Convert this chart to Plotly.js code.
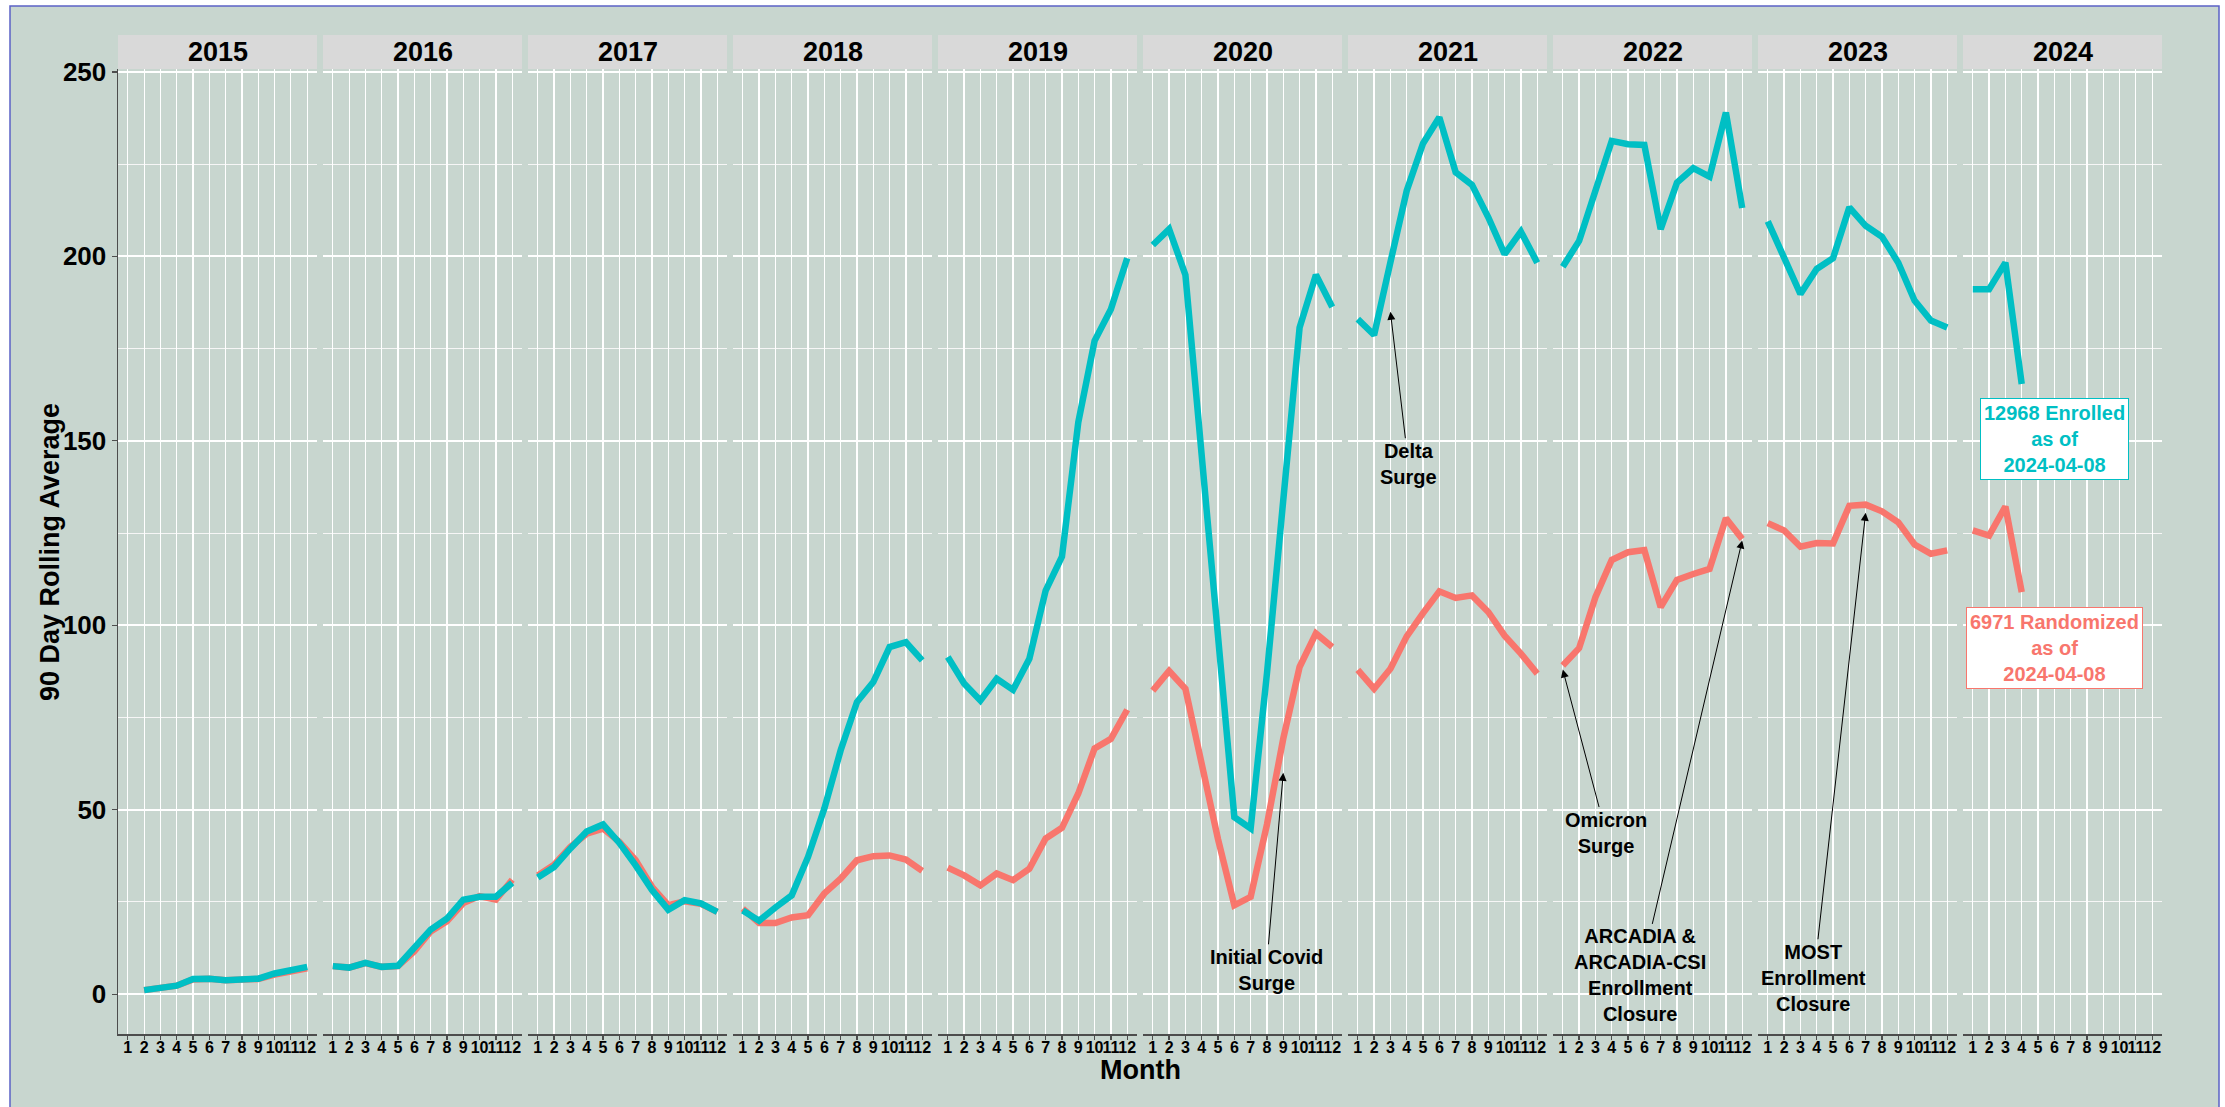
<!DOCTYPE html>
<html><head><meta charset="utf-8">
<script src="https://cdn.plot.ly/plotly-3.0.1.min.js"></script>
<style>html,body{margin:0;padding:0;background:#fff;}#chart{width:2225px;height:1107px;}</style>
</head><body><div id="chart"></div>
<script>
// ---------------- data ----------------
const years = ['2015','2016','2017','2018','2019','2020','2021','2022','2023','2024'];
const months = [1,2,3,4,5,6,7,8,9,10,11,12];
const monthLabels = ['1','2','3','4','5','6','7','8','9','10','11','12'];
const yTicks = [0,50,100,150,200,250];

const enrolled2015 = [null,1.1,1.5,2.3,4.1,4.2,3.8,4.0,4.2,5.6,6.3,7.4];
const enrolled2016 = [7.6,7.2,8.5,7.4,7.7,12.4,17.5,20.5,25.6,26.4,26.4,30.2];
const enrolled2017 = [31.6,34.5,39.5,44.1,46.0,41.0,34.9,28.2,22.9,25.5,24.6,22.3];
const enrolled2018 = [22.7,19.9,23.5,26.8,37.2,50.3,66.1,79.2,84.6,94.1,95.4,90.5];
const enrolled2019 = [91.4,84.2,79.6,85.5,82.5,90.9,109.4,118.6,155,177.1,185.7,199.5];
const enrolled2020 = [203.1,207.4,195.0,146.5,95,48,44.9,87,134,180.7,195.0,186.3];
const enrolled2021 = [183.0,178.7,198.4,217.8,230.6,237.7,222.8,219.4,210.6,200.6,206.7,198.3];
const enrolled2022 = [197.2,204.2,217.8,231.3,230.4,230.2,207.4,220.0,223.9,221.6,239.0,213.1];
const enrolled2023 = [209.5,199.6,189.8,196.6,199.5,213.3,208.3,205.3,198.3,188.0,182.6,180.7];
const enrolled2024 = [191.1,191.1,198.3,165.4,null,null,null,null,null,null,null,null];

const randomized2015 = [null,1.1,1.5,2.3,4.0,4.2,3.8,4.0,4.1,5.3,6.0,7.0];
const randomized2016 = [7.6,7.2,8.4,7.4,7.6,11.6,17.0,19.8,24.7,26.6,25.6,31.0];
const randomized2017 = [32.2,35.1,39.9,43.5,44.9,41.3,36.3,29.1,24.1,25.2,24.5,22.3];
const randomized2018 = [23.2,19.3,19.3,20.8,21.4,27.3,31.3,36.3,37.4,37.6,36.5,33.4];
const randomized2019 = [34.3,32.2,29.5,32.7,30.9,34.0,42.2,45.1,54.4,66.6,69.2,77.1];
const randomized2020 = [82.3,87.6,82.8,62,42,24.1,26.4,46,69.3,88.7,97.8,94.1];
const randomized2021 = [87.9,82.8,88.2,97.0,103.3,109.2,107.4,108.1,103.6,97.2,92.3,86.9];
const randomized2022 = [89.1,93.8,107.6,117.7,119.8,120.4,104.9,112.3,113.9,115.3,129.0,123.4];
const randomized2023 = [127.7,125.7,121.3,122.3,122.2,132.4,132.7,130.9,127.9,121.9,119.4,120.3];
const randomized2024 = [125.7,124.3,132.2,109.0,null,null,null,null,null,null,null,null];

const enrolledByYear = [enrolled2015,enrolled2016,enrolled2017,enrolled2018,enrolled2019,enrolled2020,enrolled2021,enrolled2022,enrolled2023,enrolled2024];
const randomizedByYear = [randomized2015,randomized2016,randomized2017,randomized2018,randomized2019,randomized2020,randomized2021,randomized2022,randomized2023,randomized2024];

// event notes: panel index, month, value at arrow tip
const noteTexts = ['Delta<br>Surge','Initial Covid<br>Surge','Omicron<br>Surge','ARCADIA &<br>ARCADIA-CSI<br>Enrollment<br>Closure','MOST<br>Enrollment<br>Closure'];
const notePanels = [6,5,7,7,8];
const noteMonths = [3,9,1,12,7];
const noteValues = [185,60,88,123,130.5];
const noteDx = [18,-17,43,-102,-52];
const noteDy = [152,197,163,435,465];

const totalTexts = ['12968 Enrolled<br>as of<br>2024-04-08','6971 Randomized<br>as of<br>2024-04-08'];
const totalMonth = 6;
const totalValues = [150.5,93.8];

// ---------------- style ----------------
const TEAL = '#00BFC4', RED = '#F8766D';
const FONT = 'Liberation Sans, Arial, Helvetica, sans-serif';
const W = 2225, H = 1107;
const L = 118, R = 2162, T = 69, B = 1034;
const PW = R - L, PH = B - T;
const panelW = 199, pitch = 205;
const px = p => (p - L) / PW;
const py = q => (B - q) / PH;

const traces = [];
const layout = {
  width: W, height: H,
  margin: {l: L, r: W - R, t: T, b: H - B, pad: 0},
  paper_bgcolor: '#ffffff',
  plot_bgcolor: '#EBEBEB',
  showlegend: false,
  hovermode: false,
  font: {family: FONT, color: '#000'},
  shapes: [], annotations: []
};

layout.shapes.push({type:'rect', xref:'paper', yref:'paper', layer:'below',
  x0: px(10), x1: px(2219), y0: py(1115), y1: py(6),
  fillcolor:'#C8D6CF', line:{color:'#5B61C6', width:1.5}});

layout.yaxis = {
  anchor:'x', range:[-10.8, 250.8], tickvals: yTicks, ticktext: yTicks.map(String),
  showgrid:true, gridcolor:'#FFFFFF', gridwidth:2, zeroline:false,
  minor:{dtick:25, tick0:0, showgrid:true, gridcolor:'#F6F6F6', gridwidth:1, ticks:''},
  showline:true, linecolor:'#4D4D4D', linewidth:1.5,
  ticks:'outside', ticklen:5, tickcolor:'#4D4D4D', tickwidth:1.2,
  tickfont:{family:FONT, size:26, weight:'bold', color:'#000'},
  automargin:false, fixedrange:true
};

years.forEach((yr, i) => {
  const k = i + 1;
  const xName = 'xaxis' + (k === 1 ? '' : k);
  const xRef = 'x' + (k === 1 ? '' : k);
  const s = L + i * pitch, e = s + panelW;
  layout[xName] = {
    domain:[px(s), px(e)], anchor:'y', range:[0.4, 12.6],
    tickvals: months, ticktext: monthLabels, tickangle: 0,
    showgrid:true, gridcolor:'#FFFFFF', gridwidth:1.2, zeroline:false,
    showline:true, linecolor:'#4D4D4D', linewidth:1.5,
    ticks:'outside', ticklen:4, tickcolor:'#4D4D4D', tickwidth:1.2,
    tickfont:{family:FONT, size:16, weight:'bold', color:'#000'},
    ticklabelstandoff: -6,
    automargin:false, fixedrange:true
  };
  layout.shapes.push({type:'rect', xref: xRef + ' domain', yref:'paper',
    x0:0, x1:1, y0:1, y1:py(35), fillcolor:'#D9D9D9', line:{width:0}});
  layout.annotations.push({xref: xRef + ' domain', yref:'paper', x:0.5, y:py(52),
    text: yr, showarrow:false, xanchor:'center', yanchor:'middle',
    font:{family:FONT, size:27, weight:'bold', color:'#000'}});
  traces.push({type:'scatter', mode:'lines', x: months, y: randomizedByYear[i],
    xaxis: xRef, yaxis:'y', line:{color:RED, width:6.5}, connectgaps:false, hoverinfo:'skip'});
});
years.forEach((yr, i) => {
  const k = i + 1;
  const xRef = 'x' + (k === 1 ? '' : k);
  traces.push({type:'scatter', mode:'lines', x: months, y: enrolledByYear[i],
    xaxis: xRef, yaxis:'y', line:{color:TEAL, width:6.5}, connectgaps:false, hoverinfo:'skip'});
});

noteTexts.forEach((t, j) => {
  const k = notePanels[j] + 1;
  layout.annotations.push({xref:'x' + k, yref:'y', x: noteMonths[j], y: noteValues[j],
    text: t, showarrow:true, ax: noteDx[j], ay: noteDy[j],
    arrowhead:2, arrowsize:1.6, arrowwidth:1, arrowcolor:'#000', standoff:0,
    font:{family:FONT, size:20, weight:'bold', color:'#000'}, align:'center'});
});

const totalColors = [TEAL, RED];
totalTexts.forEach((t, j) => {
  layout.annotations.push({xref:'x10', yref:'y', x: totalMonth, y: totalValues[j],
    text: t, showarrow:false, xanchor:'center', yanchor:'middle', align:'center',
    bgcolor:'#FFFFFF', bordercolor: totalColors[j], borderwidth:1, borderpad:3,
    font:{family:FONT, size:20, weight:'bold', color: totalColors[j]}});
});

layout.annotations.push({xref:'paper', yref:'paper', x:0.5, y:py(1070), text:'Month',
  showarrow:false, xanchor:'center', yanchor:'middle',
  font:{family:FONT, size:27, weight:'bold', color:'#000'}});
layout.annotations.push({xref:'paper', yref:'paper', x:px(50), y:py(552), text:'90 Day Rolling Average',
  textangle:-90, showarrow:false, xanchor:'center', yanchor:'middle',
  font:{family:FONT, size:27, weight:'bold', color:'#000'}});

Plotly.newPlot('chart', traces, layout, {displayModeBar:false, staticPlot:true});
</script></body></html>
